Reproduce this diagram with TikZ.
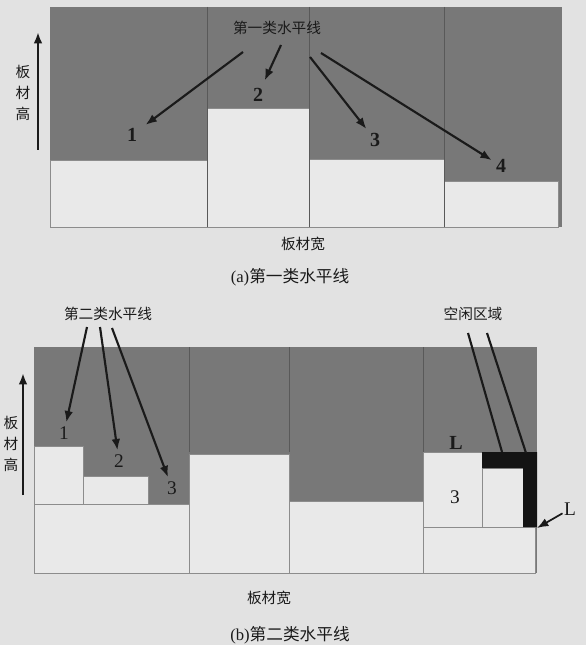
\documentclass[tikz,border=0pt]{standalone}
\usepackage{fontspec}
\setmainfont{Liberation Serif}
\newfontfamily\cjk{Noto Sans CJK SC}
\usetikzlibrary{arrows.meta}
\definecolor{paper}{HTML}{E2E2E2}
\definecolor{board}{HTML}{787878}
\definecolor{piece}{HTML}{E9E9E9}
\definecolor{ink}{HTML}{1A1A1A}
\begin{document}
\begin{tikzpicture}[x=0.75pt,y=-0.75pt,
		block/.style={fill=piece,draw=black!45,very thin},
		cut/.style={draw=black!65,very thin},
		arr/.style={ink,line width=1.6pt,-{Latex[length=8.5pt,width=6.5pt]}},
		lbl/.style={font=\cjk\fontsize{11}{12}\selectfont,text=ink,inner sep=1pt},
		captxt/.style={font=\fontsize{12.5}{14}\selectfont,text=ink,inner sep=1pt},
		num/.style={font=\fontsize{15}{15}\selectfont\bfseries,text=ink,inner sep=3pt},
		numb/.style={font=\fontsize{14.5}{15}\selectfont,text=ink,inner sep=3pt}]
	\fill[paper] (0,0) rectangle (586,645);
	\useasboundingbox (0,0) rectangle (586,645);
	% (a)
	\fill[board] (50,7) rectangle (562,227);
	\draw[block] (50,160) rectangle (207,227);
	\draw[block] (207,108) rectangle (309,227);
	\draw[block] (309,159) rectangle (444,227);
	\draw[block] (444,181) rectangle (558,227);
	\foreach \x in {207,309,444}
		\draw[cut] (\x,7)--(\x,227);
	\node[lbl](ta) at (277,28){第一类水平线};
	\node[num](n1) at (132,135){1};
	\node[num](n2) at (258,95){2};
	\node[num](n3) at (375,140){3};
	\node[num](n4) at (501,166){4};
	\coordinate (a1) at (243,52);
	\coordinate (a2) at (281,45);
	\coordinate (a3) at (310,57);
	\coordinate (a4) at (321,53);
	\draw[arr,shorten >=4pt] (a1)--(n1);
	\draw[arr,shorten >=3pt] (a2)--(n2);
	\draw[arr] (a3)--(n3);
	\draw[arr] (a4)--(n4);
	\node[lbl,align=center,font=\cjk\fontsize{11}{15.5}\selectfont](ha) at (23,93){板\\材\\高};
	\coordinate (ha0) at (38,150);
	\coordinate (ha1) at (38,32);
	\draw[arr,line width=1.9pt] (ha0)--(ha1);
	\node[lbl](wa) at (303,244){板材宽};
	\node[captxt](ca) at (290,277){(a){\cjk 第一类水平线}};
	% (b)
	\fill[board] (34,347) rectangle (537,573);
	\draw[block] (34,504) rectangle (189,573);
	\draw[block] (34,446) rectangle (83,504);
	\draw[block] (83,476) rectangle (148,504);
	\draw[block] (189,454) rectangle (289,573);
	\draw[block] (289,501) rectangle (423,573);
	\draw[block] (423,527) rectangle (535,573);
	\draw[block] (423,452) rectangle (482,527);
	\draw[block] (482,468) rectangle (523,527);
	\fill[black!92] (482,452) -| (537,527) -- (523,527) |- (482,468) -- cycle;
	\foreach \x in {189,289,423}
		\draw[cut] (\x,347)--(\x,452);
	\node[lbl](tb) at (108,314){第二类水平线};
	\node[lbl](tf) at (473,314){空闲区域};
	\node[numb](m1) at (64,433){1};
	\node[numb](m2) at (119,461){2};
	\node[numb](m3) at (172,488){3};
	\node[numb](p3) at (455,497){3};
	\node[num,inner sep=1pt](l1) at (456,443){L};
	\node[numb,inner sep=1pt](l2) at (570,509){L};
	\coordinate (b1) at (87,327);
	\coordinate (b2) at (100,327);
	\coordinate (b3) at (112,328);
	\draw[arr] (b1)--(m1);
	\draw[arr] (b2)--(m2);
	\draw[arr] (b3)--(m3);
	\coordinate (f1) at (468,333);
	\coordinate (f2) at (487,333);
	\coordinate (g1) at (502,452);
	\coordinate (g2) at (526,453);
	\draw[ink,line width=1.6pt] (f1)--(g1);
	\draw[ink,line width=1.6pt] (f2)--(g2);
	\coordinate (lc) at (537,528);
	\draw[arr,line width=1.3pt] (l2)--(lc);
	\node[lbl,align=center,font=\cjk\fontsize{11}{15.5}\selectfont](hb) at (11,444){板\\材\\高};
	\coordinate (hb0) at (23,495);
	\coordinate (hb1) at (23,373);
	\draw[arr,line width=1.9pt] (hb0)--(hb1);
	\node[lbl](wb) at (269,598){板材宽};
	\node[captxt](cb) at (290,635){(b){\cjk 第二类水平线}};
\end{tikzpicture}
\end{document}
